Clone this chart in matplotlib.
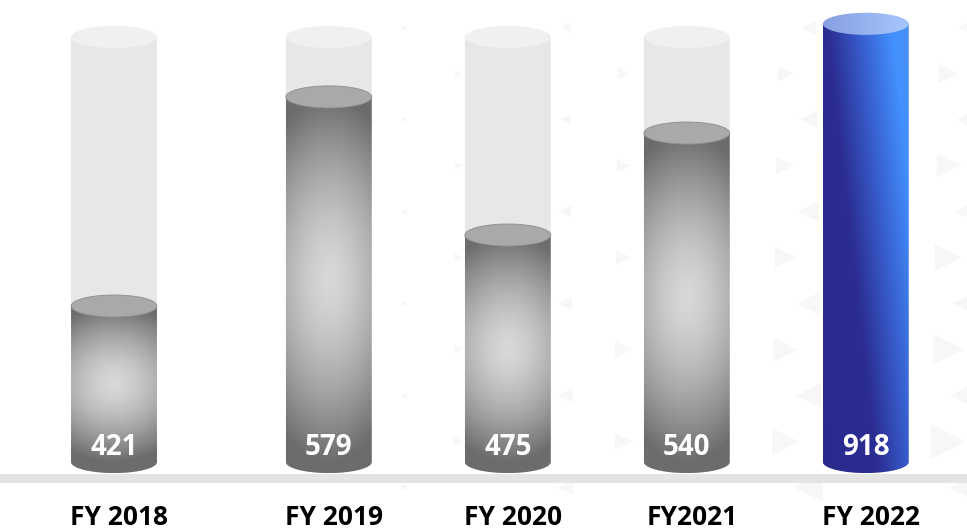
import numpy as np
import matplotlib
matplotlib.use("Agg")
import matplotlib.pyplot as plt
from matplotlib.path import Path
from matplotlib.patches import PathPatch, Ellipse
from matplotlib.colors import LinearSegmentedColormap, to_rgb

plt.rcParams['font.family'] = ['Open Sans', 'DejaVu Sans']

# data
categories = ['FY 2018', 'FY 2019', 'FY 2020', 'FY2021', 'FY 2022']
values = [421, 579, 475, 540, 918]
# fill level of each cylinder (1.0 = full grey glass)
levels = [0.367, 0.859, 0.534, 0.774, 1.031]

# layout
x_pos = [0, 1.2, 2.2, 3.2, 4.2]
half_w = 0.24
ell_h = 0.026
px_per_unit = 425.0

fig = plt.figure(figsize=(9.67, 5.32), dpi=100)

# faint triangle pattern in the background (pixel coords)
ax_bg = fig.add_axes([0, 0, 1, 1], zorder=0)
ax_bg.set_xlim(0, 967)
ax_bg.set_ylim(532, 0)
ax_bg.axis('off')
right_cols = [458, 623, 785, 948]
left_cols = [403, 565, 808, 967]
for col in right_cols:
    for k in range(5):
        y = 73 + 92 * k
        s = (col - 380) / 570 * (0.5 + y / 532)
        ax_bg.scatter(col, y, marker='>', s=(4 + 16 * s) ** 2, color='#f7f7f7', linewidths=0)
for col in left_cols:
    for k in range(6):
        y = 27 + 92 * k
        s = (col - 380) / 590 * (0.5 + y / 532)
        ax_bg.scatter(col, y, marker='<', s=(4 + 16 * s) ** 2, color='#f7f7f7', linewidths=0)

ax = fig.add_axes([0, 0, 1, 1], zorder=1)
ax.patch.set_alpha(0)


def body_path(x, top):
    t = np.linspace(np.pi, 2 * np.pi, 60)
    verts = [(x - half_w, top), (x - half_w, 0)]
    verts += list(zip(x + half_w * np.cos(t), ell_h * np.sin(t)))
    verts += [(x + half_w, top), (x - half_w, top)]
    codes = [Path.MOVETO] + [Path.LINETO] * (len(verts) - 2) + [Path.CLOSEPOLY]
    return Path(verts, codes)


def clipped_image(arr, extent, clip, zorder, cmap=None, norm=None):
    patch = PathPatch(clip, transform=ax.transData, facecolor='none', edgecolor='none')
    ax.add_patch(patch)
    im = ax.imshow(arr, extent=extent, origin='lower', aspect='auto',
                   interpolation='bilinear', zorder=zorder, cmap=cmap)
    if norm is not None:
        im.set_clim(*norm)
    im.set_clip_path(patch)
    return im


light = np.array(to_rgb('#d8d8d8'))
dark = np.array(to_rgb('#6c6c6c'))
blue_cmap = LinearSegmentedColormap.from_list('blue', [
    (0.0, '#2a2a8e'), (0.40, '#2b2d92'), (0.68, '#3a66d6'),
    (0.88, '#4392ff'), (1.0, '#4a8ef2')])
top_cmap = LinearSegmentedColormap.from_list('bluetop', ['#879fe0', '#a6c6ff'])

# grey baseline band
ax.axhspan(-0.049, -0.029, color='#e4e4e4', zorder=1, linewidth=0)

for i, (x, val, lev) in enumerate(zip(x_pos, values, levels)):
    highlight = i == len(values) - 1
    if not highlight:
        # empty glass behind
        ax.add_patch(PathPatch(body_path(x, 1.0), facecolor='#e7e7e7', edgecolor='none', zorder=2))
        ax.add_patch(Ellipse((x, 1.0), 2 * half_w, 2 * ell_h, facecolor='#f0f0f0',
                             edgecolor='none', zorder=2.5))
        # radial grey gradient for the filled part
        ny, nx = 300, 80
        yy = np.linspace(-ell_h, lev, ny)
        u = np.linspace(-1, 1, nx)
        v = (yy - lev / 2) / (lev / 2)
        U, V = np.meshgrid(u, v)
        d = np.clip(np.sqrt(0.25 * U ** 2 + V ** 2), 0, 1) ** 1.5
        img = light[None, None, :] + (dark - light)[None, None, :] * d[:, :, None]
        clipped_image(img, (x - half_w, x + half_w, -ell_h, lev), body_path(x, lev), 3)
        ax.add_patch(Ellipse((x, lev), 2 * half_w, 2 * ell_h, facecolor='#a9a9a9',
                             edgecolor='#8e8e8e', linewidth=0.6, zorder=4))
    else:
        ny, nx = 300, 120
        u = np.linspace(0, 1, nx)
        v = np.linspace(0, 1, ny)
        U, V = np.meshgrid(u, v)
        tval = U - 0.6 * (1 - V)
        clipped_image(tval, (x - half_w, x + half_w, -ell_h, lev), body_path(x, lev), 3,
                      cmap=blue_cmap, norm=(-0.6, 1.0))
        top_el = Ellipse((x, lev), 2 * half_w, 2 * ell_h, transform=ax.transData)
        top_img = np.tile(np.linspace(0, 1, 100), (10, 1))
        im = ax.imshow(top_img, extent=(x - half_w, x + half_w, lev - ell_h, lev + ell_h),
                       origin='lower', aspect='auto', cmap=top_cmap, zorder=4,
                       interpolation='bilinear')
        im.set_clip_path(top_el)

    ax.text(x, 0.035, str(val), ha='center', va='center', color='white',
            fontsize=20, fontweight='bold', zorder=6)
    ax.text(x + 0.03, -0.148, categories[i], ha='center', va='baseline', color='black',
            fontsize=19, fontweight='bold', zorder=6)

ax.set_xlim(-114 / 179, 853 / 179)
ax.set_ylim(-70 / px_per_unit, 462 / px_per_unit)
ax.axis('off')

fig.savefig('out.png', dpi=100)
